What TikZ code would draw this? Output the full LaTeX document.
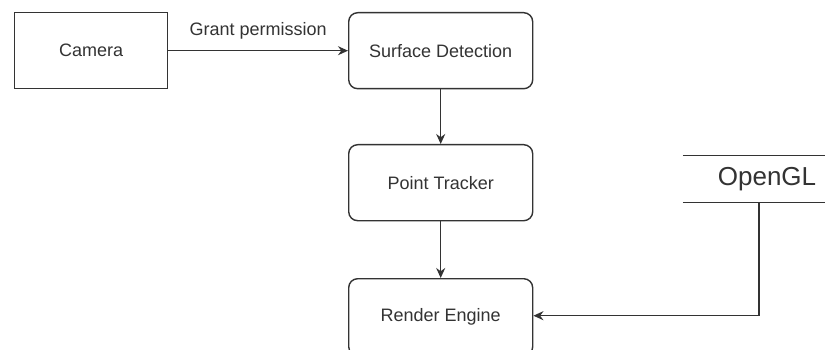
\documentclass[tikz,border=0pt]{standalone}
\usepackage{fontspec}
\setmainfont{Liberation Sans}
\usetikzlibrary{arrows.meta}
\definecolor{ink}{HTML}{333333}
\tikzset{
  x=1pt, y=-1pt,
  block/.style={draw=ink, line width=1.4pt, text=ink, font=\fontsize{18}{20}\selectfont,
    minimum width=184pt, minimum height=76pt, inner sep=0pt, anchor=north west},
  roundblock/.style={block, rounded corners=9pt},
  flow/.style={draw=ink, line width=1.4pt, -{Stealth[length=10pt,width=9pt]}},
  lbl/.style={text=ink, font=\fontsize{18}{20}\selectfont, inner sep=0pt}
}
\begin{document}
\begin{tikzpicture}
\useasboundingbox (0,0) rectangle (825,350);
\clip (0,0) rectangle (825,350);
\fill[white] (0,0) rectangle (825,350);

% processing pipeline
\node[block, minimum width=153pt] (cam) at (14,12) {Camera};
\node[roundblock] (surf) at (348,12) {Surface Detection};
\node[roundblock] (track) at (348,144) {Point Tracker};
\node[roundblock, minimum height=77pt] (render) at (348,278) {Render Engine};

% OpenGL store: open shape with top and bottom rules only
\node[text=ink, font=\fontsize{26}{28}\selectfont, minimum width=168pt, minimum height=46pt,
      inner sep=0pt] (ogl) at (767,179) {OpenGL};
\draw[ink, line width=1.4pt] (ogl.north west) -- (ogl.north east);
\draw[ink, line width=1.4pt] (ogl.south west) -- (ogl.south east);

% connectors
\draw[flow] (cam.east) -- node[lbl, above=11pt] {Grant permission} (surf.west);
\draw[flow] (surf.south) -- (track.north);
\draw[flow] (track.south) -- (render.north);
\coordinate (oglout) at ([xshift=-8pt]ogl.south);
\draw[flow] (oglout) |- ([yshift=1.5pt]render.east);
\end{tikzpicture}
\end{document}
